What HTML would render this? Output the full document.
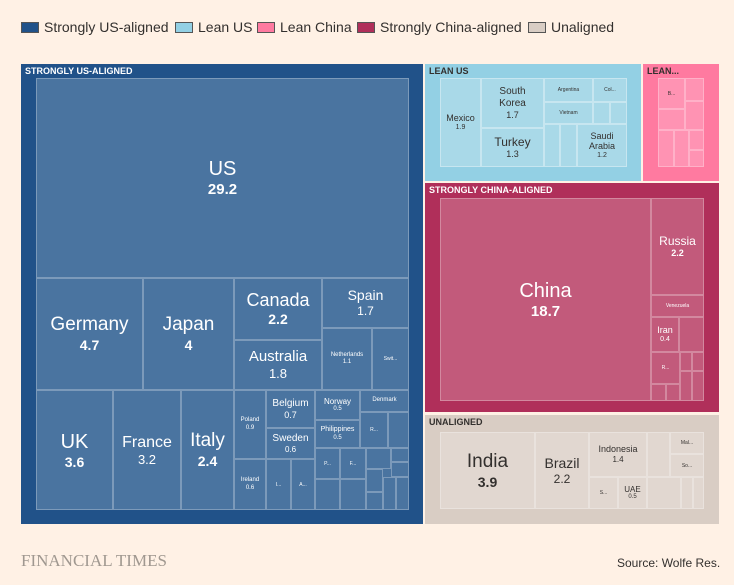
<!DOCTYPE html>
<html><head><meta charset="utf-8"><style>
body{margin:0;width:734px;height:585px;background:#fff1e5;font-family:"Liberation Sans",sans-serif;position:relative;overflow:hidden}
div{box-sizing:border-box}
.a{position:absolute}
.lg{position:absolute;top:19px;font-size:14px;color:#33302e;display:flex;align-items:center;white-space:nowrap}
.sw{width:18px;height:11px;border:1px solid #555;margin-right:5px;flex:none}
.hd{position:absolute;font-size:9px;font-weight:bold;color:#fff;left:4px;top:2px}
.c{position:absolute;border:1px solid rgba(255,255,255,0.28);display:flex;flex-direction:column;align-items:center;justify-content:center;text-align:center;color:#fff;line-height:1.2}
.d{color:#33302e}
.dk{border-color:rgba(255,255,255,0.35)}
</style></head><body>
<div class="lg" style="left:21px"><div class="sw" style="background:#215289"></div>Strongly US-aligned</div>
<div class="lg" style="left:175px"><div class="sw" style="background:#93d0e4"></div>Lean US</div>
<div class="lg" style="left:257px"><div class="sw" style="background:#ff7aa0"></div>Lean China</div>
<div class="lg" style="left:357px"><div class="sw" style="background:#b02f5a"></div>Strongly China-aligned</div>
<div class="lg" style="left:528px"><div class="sw" style="background:#d9cdc4"></div>Unaligned</div>

<!-- Strongly US -->
<div class="a" style="left:21px;top:64px;width:402px;height:460px;background:#215289"><div class="hd">STRONGLY US-ALIGNED</div></div>
<div class="a" style="left:36px;top:78px;width:373px;height:432px;background:#4a74a0"></div>
<div class="c" style="left:36px;top:78px;width:373px;height:200px"><span style="font-size:20px">US</span><b style="font-size:15px">29.2</b></div>
<div class="c" style="left:36px;top:278px;width:107px;height:112px"><span style="font-size:19px">Germany</span><b style="font-size:14px">4.7</b></div>
<div class="c" style="left:143px;top:278px;width:91px;height:112px"><span style="font-size:19px">Japan</span><b style="font-size:14px">4</b></div>
<div class="c" style="left:234px;top:278px;width:88px;height:62px"><span style="font-size:18px">Canada</span><b style="font-size:14px">2.2</b></div>
<div class="c" style="left:234px;top:340px;width:88px;height:50px"><span style="font-size:15px">Australia</span><span style="font-size:13px">1.8</span></div>
<div class="c" style="left:322px;top:278px;width:87px;height:50px"><span style="font-size:14px">Spain</span><span style="font-size:12px">1.7</span></div>
<div class="c" style="left:322px;top:328px;width:50px;height:62px"><span style="font-size:6px">Netherlands<br>1.1</span></div>
<div class="c" style="left:372px;top:328px;width:37px;height:62px"><span style="font-size:5px">Swit...</span></div>
<div class="c" style="left:36px;top:390px;width:77px;height:120px"><span style="font-size:20px">UK</span><b style="font-size:14px">3.6</b></div>
<div class="c" style="left:113px;top:390px;width:68px;height:120px"><span style="font-size:16px">France</span><span style="font-size:13px">3.2</span></div>
<div class="c" style="left:181px;top:390px;width:53px;height:120px"><span style="font-size:19px">Italy</span><b style="font-size:14px">2.4</b></div>
<div class="c" style="left:234px;top:390px;width:32px;height:69px"><span style="font-size:6px">Poland<br>0.9</span></div>
<div class="c" style="left:234px;top:459px;width:32px;height:51px"><span style="font-size:6px">Ireland<br>0.6</span></div>
<div class="c" style="left:266px;top:459px;width:25px;height:51px"><span style="font-size:5px">I...</span></div>
<div class="c" style="left:291px;top:459px;width:24px;height:51px"><span style="font-size:5px">A...</span></div>
<div class="c" style="left:266px;top:390px;width:49px;height:38px"><span style="font-size:10px">Belgium</span><span style="font-size:9px">0.7</span></div>
<div class="c" style="left:266px;top:428px;width:49px;height:31px"><span style="font-size:10px">Sweden</span><span style="font-size:8px">0.6</span></div>
<div class="c" style="left:315px;top:390px;width:45px;height:30px"><span style="font-size:8px">Norway</span><span style="font-size:6px">0.5</span></div>
<div class="c" style="left:315px;top:420px;width:45px;height:28px"><span style="font-size:7px">Philippines</span><span style="font-size:6px">0.5</span></div>
<div class="c" style="left:360px;top:390px;width:49px;height:22px"><span style="font-size:6px">Denmark</span></div>
<div class="c" style="left:360px;top:412px;width:28px;height:36px"><span style="font-size:5px">R...</span></div>
<div class="c" style="left:388px;top:412px;width:21px;height:36px"></div>
<div class="c" style="left:315px;top:448px;width:25px;height:31px"><span style="font-size:5px">P...</span></div>
<div class="c" style="left:340px;top:448px;width:26px;height:31px"><span style="font-size:5px">F...</span></div>
<div class="c" style="left:315px;top:479px;width:25px;height:31px"></div>
<div class="c" style="left:340px;top:479px;width:26px;height:31px"></div>
<div class="c" style="left:366px;top:448px;width:25px;height:21px"></div>
<div class="c" style="left:391px;top:448px;width:18px;height:14px"></div>
<div class="c" style="left:391px;top:462px;width:18px;height:15px"></div>
<div class="c" style="left:366px;top:469px;width:17px;height:23px"></div>
<div class="c" style="left:366px;top:492px;width:17px;height:18px"></div>
<div class="c" style="left:383px;top:477px;width:13px;height:33px"></div>
<div class="c" style="left:396px;top:477px;width:13px;height:33px"></div>

<!-- Lean US -->
<div class="a" style="left:425px;top:64px;width:216px;height:117px;background:#93d0e4"><div class="hd" style="color:#33302e">LEAN US</div></div>
<div class="a" style="left:440px;top:78px;width:187px;height:89px;background:#a9d9e8"></div>
<div class="c dk d" style="left:440px;top:78px;width:41px;height:89px"><span style="font-size:9px">Mexico</span><span style="font-size:7px">1.9</span></div>
<div class="c dk d" style="left:481px;top:78px;width:63px;height:50px"><span style="font-size:10px">South<br>Korea</span><span style="font-size:9px">1.7</span></div>
<div class="c dk d" style="left:481px;top:128px;width:63px;height:39px"><span style="font-size:12px">Turkey</span><span style="font-size:9px">1.3</span></div>
<div class="c dk d" style="left:544px;top:78px;width:49px;height:24px"><span style="font-size:5px">Argentina</span></div>
<div class="c dk d" style="left:544px;top:102px;width:49px;height:22px"><span style="font-size:5px">Vietnam</span></div>
<div class="c dk d" style="left:593px;top:78px;width:34px;height:24px"><span style="font-size:5px">Col...</span></div>
<div class="c dk" style="left:593px;top:102px;width:17px;height:22px"></div>
<div class="c dk" style="left:610px;top:102px;width:17px;height:22px"></div>
<div class="c dk d" style="left:577px;top:124px;width:50px;height:43px"><span style="font-size:9px">Saudi<br>Arabia</span><span style="font-size:7px">1.2</span></div>
<div class="c dk" style="left:544px;top:124px;width:16px;height:43px"></div>
<div class="c dk" style="left:560px;top:124px;width:17px;height:43px"></div>

<!-- Lean China -->
<div class="a" style="left:643px;top:64px;width:76px;height:117px;background:#ff7aa0"><div class="hd" style="color:#33302e">LEAN...</div></div>
<div class="a" style="left:658px;top:78px;width:46px;height:89px;background:#ff93b3"></div>
<div class="c" style="left:658px;top:78px;width:27px;height:31px"><span style="font-size:5px;color:#33302e">B...</span></div>
<div class="c" style="left:685px;top:78px;width:19px;height:23px"></div>
<div class="c" style="left:658px;top:109px;width:27px;height:21px"></div>
<div class="c" style="left:685px;top:101px;width:19px;height:29px"></div>
<div class="c" style="left:658px;top:130px;width:16px;height:37px"></div>
<div class="c" style="left:674px;top:130px;width:15px;height:37px"></div>
<div class="c" style="left:689px;top:130px;width:15px;height:20px"></div>
<div class="c" style="left:689px;top:150px;width:15px;height:17px"></div>

<!-- Strongly China -->
<div class="a" style="left:425px;top:183px;width:294px;height:229px;background:#b02f5a"><div class="hd">STRONGLY CHINA-ALIGNED</div></div>
<div class="a" style="left:440px;top:198px;width:264px;height:203px;background:#c25a7b"></div>
<div class="c" style="left:440px;top:198px;width:211px;height:203px"><span style="font-size:20px">China</span><b style="font-size:15px">18.7</b></div>
<div class="c" style="left:651px;top:198px;width:53px;height:97px"><span style="font-size:12px">Russia</span><b style="font-size:9px">2.2</b></div>
<div class="c" style="left:651px;top:295px;width:53px;height:22px"><span style="font-size:5px">Venezuela</span></div>
<div class="c" style="left:651px;top:317px;width:28px;height:35px"><span style="font-size:9px">Iran</span><span style="font-size:7px">0.4</span></div>
<div class="c" style="left:679px;top:317px;width:25px;height:35px"></div>
<div class="c" style="left:651px;top:352px;width:29px;height:32px"><span style="font-size:5px">R...</span></div>
<div class="c" style="left:651px;top:384px;width:15px;height:17px"></div>
<div class="c" style="left:666px;top:384px;width:14px;height:17px"></div>
<div class="c" style="left:680px;top:352px;width:12px;height:19px"></div>
<div class="c" style="left:692px;top:352px;width:12px;height:19px"></div>
<div class="c" style="left:680px;top:371px;width:12px;height:30px"></div>
<div class="c" style="left:692px;top:371px;width:12px;height:30px"></div>

<!-- Unaligned -->
<div class="a" style="left:425px;top:415px;width:294px;height:109px;background:#d9cdc4"><div class="hd" style="color:#33302e">UNALIGNED</div></div>
<div class="a" style="left:440px;top:432px;width:264px;height:77px;background:#e1d7d0"></div>
<div class="c d" style="left:440px;top:432px;width:95px;height:77px"><span style="font-size:19px">India</span><b style="font-size:14px">3.9</b></div>
<div class="c d" style="left:535px;top:432px;width:54px;height:77px"><span style="font-size:14px">Brazil</span><span style="font-size:12px">2.2</span></div>
<div class="c d" style="left:589px;top:432px;width:58px;height:45px"><span style="font-size:9px">Indonesia</span><span style="font-size:8px">1.4</span></div>
<div class="c d" style="left:589px;top:477px;width:29px;height:32px"><span style="font-size:5px">S...</span></div>
<div class="c d" style="left:618px;top:477px;width:29px;height:32px"><span style="font-size:8px">UAE</span><span style="font-size:6px">0.5</span></div>
<div class="c" style="left:647px;top:432px;width:23px;height:45px"></div>
<div class="c d" style="left:670px;top:432px;width:34px;height:22px"><span style="font-size:5px">Mal...</span></div>
<div class="c d" style="left:670px;top:454px;width:34px;height:23px"><span style="font-size:5px">So...</span></div>
<div class="c" style="left:647px;top:477px;width:34px;height:32px"></div>
<div class="c" style="left:681px;top:477px;width:12px;height:32px"></div>
<div class="c" style="left:693px;top:477px;width:11px;height:32px"></div>

<div class="a" style="left:21px;top:551px;font-family:'Liberation Serif',serif;font-size:17px;color:#a09890">FINANCIAL TIMES</div>
<div class="a" style="left:617px;top:556px;font-size:12px;color:#33302e">Source: Wolfe Res.</div>
</body></html>
